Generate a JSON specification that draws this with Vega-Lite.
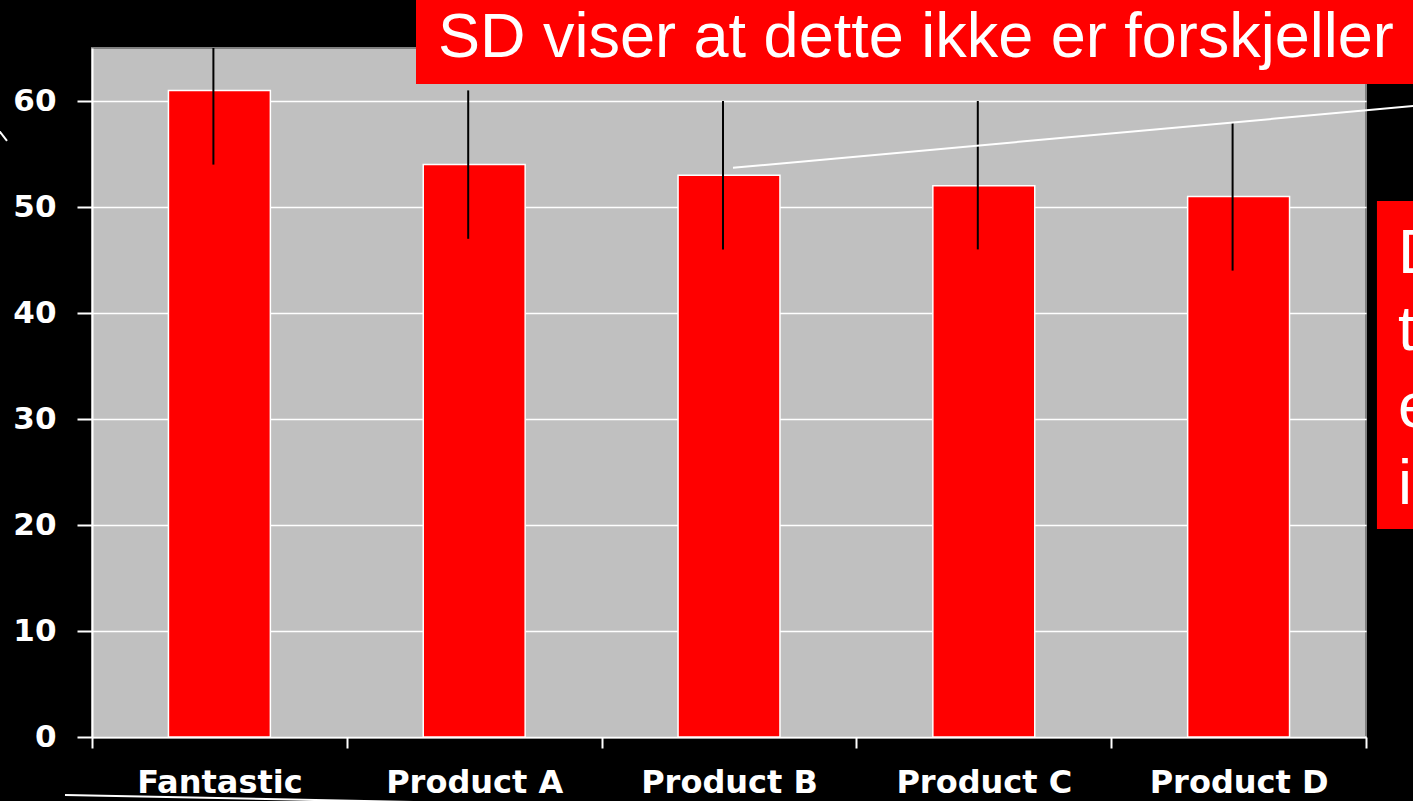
{
  "$schema": "https://vega.github.io/schema/vega-lite/v6.json",
  "width": 1274,
  "height": 689,
  "autosize": {"type": "none"},
  "padding": {"left": 92, "top": 48, "right": 47, "bottom": 64},
  "background": "#000000",
  "config": {"view": {"fill": "#C0C0C0", "stroke": "#808080", "strokeWidth": 2}},
  "datasets": {
    "products": [
      {"product": "Fantastic", "value": 61, "lower": 54, "upper": 68},
      {"product": "Product A", "value": 54, "lower": 47, "upper": 61},
      {"product": "Product B", "value": 53, "lower": 46, "upper": 60},
      {"product": "Product C", "value": 52, "lower": 46, "upper": 60},
      {"product": "Product D", "value": 51, "lower": 44, "upper": 58}
    ],
    "notes": [{"note": "SD viser at dette ikke er forskjeller"}]
  },
  "layer": [
    {
      "data": {"name": "products"},
      "layer": [
        {
          "mark": {"type": "bar", "fill": "#FF0000", "stroke": "#FFFFFF", "strokeWidth": 1.5, "width": {"band": 0.4}},
          "encoding": {
            "x": {
              "field": "product", "type": "nominal", "sort": null,
              "scale": {"paddingInner": 0, "paddingOuter": 0},
              "axis": {
                "title": null, "labelAngle": 0, "labelFont": "DejaVu Sans", "labelFontWeight": "bold",
                "labelFontSize": 32, "labelLimit": 0, "labelColor": "#FFFFFF", "domainColor": "#FFFFFF", "domainWidth": 2,
                "tickColor": "#FFFFFF", "tickWidth": 2, "tickSize": 11, "tickBand": "extent",
                "labelPadding": 44, "labelBaseline": "alphabetic", "grid": false
              }
            },
            "y": {
              "field": "value", "type": "quantitative",
              "scale": {"domain": [0, 65], "nice": false},
              "axis": {
                "title": null, "values": [0, 10, 20, 30, 40, 50, 60], "labelFont": "DejaVu Sans",
                "labelFontWeight": "bold", "labelFontSize": 31, "labelColor": "#FFFFFF",
                "domainColor": "#FFFFFF", "domainWidth": 2, "tickColor": "#FFFFFF", "tickWidth": 2,
                "tickSize": 15, "labelPadding": 21, "grid": true, "gridColor": "#FFFFFF", "gridWidth": 1.5
              }
            }
          }
        },
        {
          "mark": {"type": "rule", "color": "#000000", "strokeWidth": 2, "clip": true, "xOffset": -6},
          "encoding": {
            "x": {"field": "product", "type": "nominal", "sort": null},
            "y": {"field": "lower", "type": "quantitative"},
            "y2": {"field": "upper"}
          }
        }
      ]
    },
    {
      "data": {"name": "notes"},
      "layer": [
        {
          "mark": {"type": "rect", "fill": "#FF0000"},
          "encoding": {
            "x": {"datum": 1.2716, "type": "quantitative", "scale": {"domain": [0, 5], "nice": false, "zero": false}, "axis": null},
            "x2": {"datum": 5.4},
            "y": {"datum": 71, "type": "quantitative", "scale": {"domain": [0, 65], "nice": false}, "axis": null},
            "y2": {"datum": 61.6}
          }
        },
        {
          "mark": {"type": "rect", "fill": "#FF0000"},
          "encoding": {
            "x": {"datum": 5.043, "type": "quantitative"},
            "x2": {"datum": 5.4},
            "y": {"datum": 50.57, "type": "quantitative"},
            "y2": {"datum": 19.62}
          }
        },
        {
          "mark": {"type": "text", "color": "#FFFFFF", "font": "Liberation Sans", "fontSize": 63, "align": "left", "baseline": "alphabetic"},
          "encoding": {
            "x": {"datum": 1.358, "type": "quantitative"},
            "y": {"datum": 64.15, "type": "quantitative"},
            "text": {"field": "note", "type": "nominal"}
          }
        },
        {
          "mark": {"type": "text", "color": "#FFFFFF", "font": "Liberation Sans", "fontSize": 63, "align": "left", "baseline": "alphabetic", "lineHeight": 77},
          "encoding": {
            "x": {"datum": 5.1256, "type": "quantitative"},
            "y": {"datum": 43.77, "type": "quantitative"},
            "text": {"value": ["D", "t", "e", "i"]}
          }
        },
        {
          "mark": {"type": "rule", "color": "#FFFFFF", "strokeWidth": 2},
          "encoding": {
            "x": {"datum": 2.5157, "type": "quantitative"},
            "x2": {"datum": 5.3},
            "y": {"datum": 53.7, "type": "quantitative"},
            "y2": {"datum": 59.77}
          }
        },
        {
          "mark": {"type": "rule", "color": "#FFFFFF", "strokeWidth": 2},
          "encoding": {
            "x": {"datum": -0.106, "type": "quantitative"},
            "x2": {"datum": 1.464},
            "y": {"datum": -5.47, "type": "quantitative"},
            "y2": {"datum": -6.23}
          }
        },
        {
          "mark": {"type": "rule", "color": "#FFFFFF", "strokeWidth": 2},
          "encoding": {
            "x": {"datum": -0.4003, "type": "quantitative"},
            "x2": {"datum": -0.3336},
            "y": {"datum": 58.3, "type": "quantitative"},
            "y2": {"datum": 56.23}
          }
        }
      ]
    }
  ],
  "resolve": {"scale": {"x": "independent", "y": "independent"}}
}
